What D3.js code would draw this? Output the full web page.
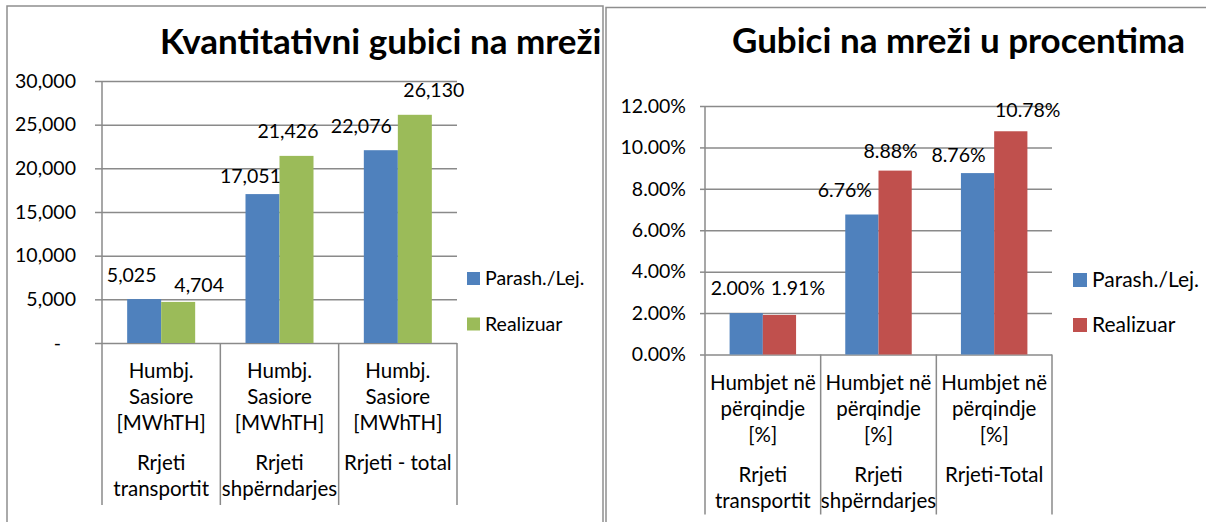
<!DOCTYPE html>
<html>
<head>
<meta charset="utf-8">
<script src="https://cdn.jsdelivr.net/npm/d3@7"></script>
<style>
  body { margin: 0; background: #fff; }
  svg text { font-family: Lato, "Open Sans", sans-serif; fill: #000; }
</style>
</head>
<body>
<div id="chart"></div>
<script>
var seriesNames = ["Parash./Lej.", "Realizuar"];

// kvantitativni gubici
var qtyInner = ["Humbj.", "Sasiore", "[MWhTH]"];
var qtyOuter = [["Rrjeti", "transportit"], ["Rrjeti", "shpërndarjes"], ["Rrjeti - total"]];
var qtyPlan = [5025, 17051, 22076];
var qtyReal = [4704, 21426, 26130];
var qtyTicks = [0, 5000, 10000, 15000, 20000, 25000, 30000];

// gubici u procentima
var pctInner = ["Humbjet në", "përqindje", "[%]"];
var pctOuter = [["Rrjeti", "transportit"], ["Rrjeti", "shpërndarjes"], ["Rrjeti-Total"]];
var pctPlan = [0.0200, 0.0676, 0.0876];
var pctReal = [0.0191, 0.0888, 0.1078];
var pctTicks = [0, 0.02, 0.04, 0.06, 0.08, 0.10, 0.12];

var width = 1206, height = 522;
var gridColor = "#8a8a8a";

var svg = d3.select("#chart").append("svg")
    .attr("width", width)
    .attr("height", height);

drawChart({
  title: "Kvantitativni gubici na mreži", titleX: 160, titleY: 54,
  frame: [7, 6, 596, 540],
  xRange: [102, 457], yRange: [343, 81],
  tickLen: 7, tickPad: 19,
  fmt: function(d) { return d === 0 ? "-   " : d3.format(",")(d); },
  valFmt: d3.format(","),
  inner: qtyInner, outer: qtyOuter,
  series: [qtyPlan, qtyReal], ticks: qtyTicks,
  colors: ["#4f81bd", "#9bbb59"],
  // hand-moved data labels in the original (dx, dy from bar top)
  nudge: [[[-12.5, -17], [-12, -11], [-19.5, -17]],
          [[21, -10], [-8.5, -18], [19, -18]]],
  legend: { x: 467, y: [278.5, 324], size: 13, font: 19.5 },
  sepLen: 162
});

drawChart({
  title: "Gubici na mreži u procentima", titleX: 732, titleY: 53,
  frame: [606, 7.5, 640, 540],
  xRange: [705, 1052], yRange: [354.5, 106],
  tickLen: 5, tickPad: 14,
  fmt: d3.format(".2%"),
  valFmt: d3.format(".2%"),
  inner: pctInner, outer: pctOuter,
  series: [pctPlan, pctReal], ticks: pctTicks,
  colors: ["#4f81bd", "#c0504d"],
  nudge: [[[-8.5, -18], [-17, -18], [-19, -11.5]],
          [[18.5, -20], [-4.5, -13], [17, -14]]],
  legend: { x: 1073, y: [280, 325], size: 14, font: 21 },
  sepLen: 160
});

function drawChart(o) {
  var g = svg.append("g");

  g.append("rect")
      .attr("x", o.frame[0]).attr("y", o.frame[1])
      .attr("width", o.frame[2]).attr("height", o.frame[3])
      .attr("fill", "none")
      .attr("stroke", "#8e8e8e")
      .attr("stroke-width", 1.5);

  var x0 = d3.scaleBand()
      .domain(d3.range(o.outer.length))
      .range(o.xRange);
  var x1 = d3.scaleBand()
      .domain([0, 1])
      .range([0, x0.bandwidth()])
      .paddingOuter(0.74);
  var y = d3.scaleLinear()
      .domain([0, d3.max(o.ticks)])
      .range(o.yRange);

  // gridlines
  var grid = g.append("g")
      .attr("transform", "translate(" + o.xRange[0] + ",0)")
      .call(d3.axisLeft(y).tickValues(o.ticks)
        .tickSize(-(o.xRange[1] - o.xRange[0])).tickFormat(""));
  grid.select(".domain").remove();
  grid.selectAll("line").attr("stroke", gridColor).attr("stroke-width", 1.5);

  // ticks and labels
  var ax = g.append("g")
      .attr("transform", "translate(" + o.xRange[0] + ",0)")
      .call(d3.axisLeft(y).tickValues(o.ticks)
        .tickSize(o.tickLen).tickPadding(o.tickPad).tickFormat(o.fmt));
  ax.select(".domain").remove();
  ax.selectAll("line").attr("stroke", gridColor).attr("stroke-width", 1.5);
  ax.selectAll("text")
      .attr("font-size", 19.5)
      .attr("fill", "#000")
      .style("white-space", "pre");

  g.append("line")
      .attr("x1", o.xRange[0]).attr("x2", o.xRange[0])
      .attr("y1", y(d3.max(o.ticks))).attr("y2", y(0))
      .attr("stroke", gridColor).attr("stroke-width", 1.5);

  // category separators
  var edges = x0.domain().map(function(i) { return x0(i); }).concat([o.xRange[1]]);
  g.selectAll(null)
      .data(edges)
    .enter().append("line")
      .attr("x1", function(d) { return d; })
      .attr("x2", function(d) { return d; })
      .attr("y1", y(0))
      .attr("y2", y(0) + o.sepLen)
      .attr("stroke", gridColor)
      .attr("stroke-width", 1.5);

  // bars + value labels
  o.series.forEach(function(vals, s) {
    g.selectAll(null)
        .data(vals)
      .enter().append("rect")
        .attr("x", function(d, i) { return x0(i) + x1(s); })
        .attr("y", function(d) { return y(d); })
        .attr("width", x1.bandwidth())
        .attr("height", function(d) { return y(0) - y(d); })
        .attr("fill", o.colors[s]);

    g.selectAll(null)
        .data(vals)
      .enter().append("text")
        .attr("x", function(d, i) { return x0(i) + x1(s) + x1.bandwidth() / 2 + o.nudge[s][i][0]; })
        .attr("y", function(d, i) { return y(d) + o.nudge[s][i][1]; })
        .attr("text-anchor", "middle")
        .attr("font-size", 19.5)
        .text(o.valFmt);
  });

  // two-level category labels
  x0.domain().forEach(function(i) {
    var cx = x0(i) + x0.bandwidth() / 2;
    o.inner.forEach(function(line, k) {
      g.append("text")
          .attr("x", cx).attr("y", y(0) + 28 + k * 26)
          .attr("dy", "0.35em")
          .attr("text-anchor", "middle")
          .attr("font-size", 20.5)
          .text(line);
    });
    o.outer[i].forEach(function(line, k) {
      g.append("text")
          .attr("x", cx).attr("y", y(0) + 120 + k * 26)
          .attr("dy", "0.35em")
          .attr("text-anchor", "middle")
          .attr("font-size", 20.5)
          .text(line);
    });
  });

  // legend
  seriesNames.forEach(function(name, s) {
    var L = o.legend;
    g.append("rect")
        .attr("x", L.x).attr("y", L.y[s] - L.size / 2)
        .attr("width", L.size).attr("height", L.size)
        .attr("fill", o.colors[s]);
    g.append("text")
        .attr("x", L.x + L.size + 5).attr("y", L.y[s])
        .attr("dy", "0.35em")
        .attr("font-size", L.font)
        .text(name);
  });

  g.append("text")
      .attr("x", o.titleX).attr("y", o.titleY)
      .attr("font-size", 35)
      .attr("font-weight", "bold")
      .text(o.title);
}
</script>
</body>
</html>
